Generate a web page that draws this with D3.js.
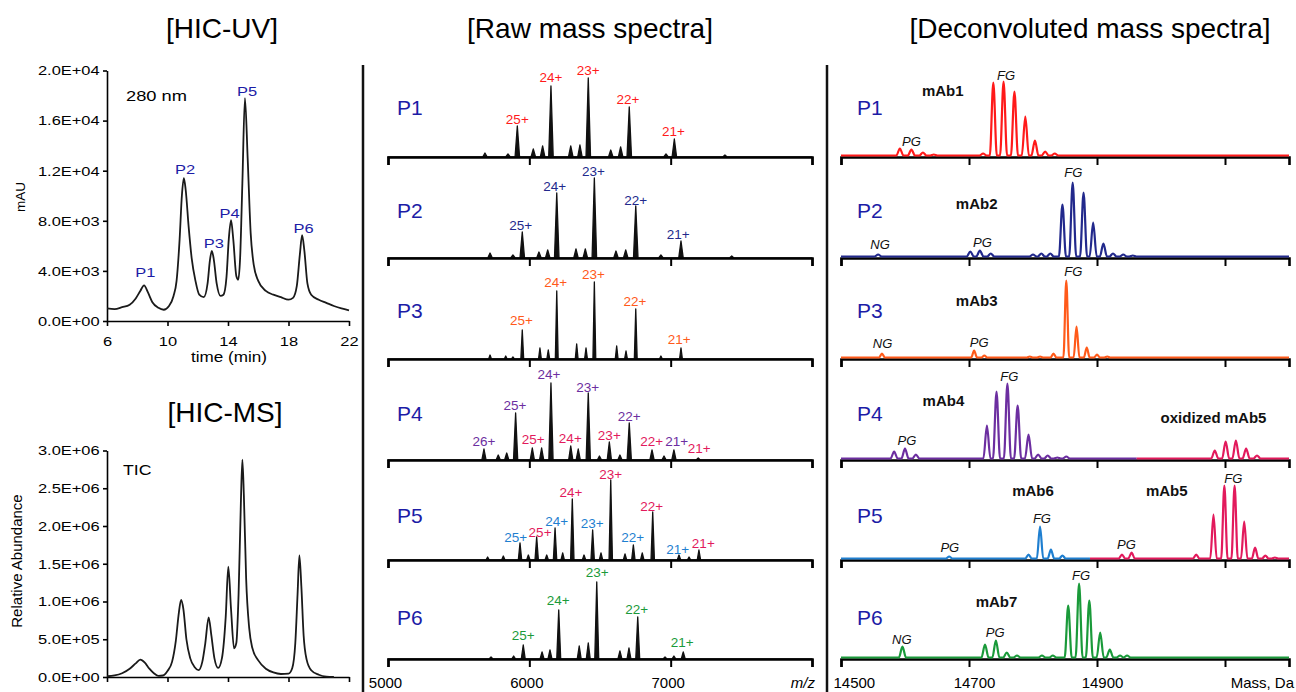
<!DOCTYPE html>
<html>
<head>
<meta charset="utf-8">
<script src="https://cdn.jsdelivr.net/npm/d3@7"></script>
<style>
  body { margin: 0; background: #fff; }
  text { font-family: "Liberation Sans", Arial, sans-serif; }
</style>
</head>
<body>
<script>
// ---- HIC chromatograms (time in min) ----
const uvTime   = [6.0, 6.5, 7.0, 7.5, 7.9, 8.2, 8.45, 8.7, 9.0, 9.4, 9.75, 10.1, 10.4, 10.6, 10.8, 10.95, 11.08, 11.2, 11.4, 11.6, 11.85, 12.1, 12.4, 12.65, 12.8, 12.93, 13.05, 13.25, 13.5, 13.7, 13.9, 14.05, 14.2, 14.35, 14.55, 14.68, 14.8, 14.95, 15.12, 15.3, 15.5, 15.7, 16.0, 16.5, 17.0, 17.5, 18.0, 18.3, 18.55, 18.75, 18.9, 19.05, 19.25, 19.5, 20.0, 20.5, 21.0, 21.5, 22.0];
const uvSignal = [1000, 950, 1100, 1300, 1800, 2400, 2850, 2300, 1500, 1050, 900, 1200, 2000, 3200, 6500, 10000, 11400, 10500, 7500, 5000, 3200, 2100, 1900, 3000, 4800, 5600, 5000, 3000, 2000, 2100, 3500, 6500, 8050, 6500, 3600, 3300, 5000, 11000, 17800, 13000, 7000, 4500, 3200, 2400, 2100, 1900, 1700, 1850, 2800, 5300, 6850, 5600, 3000, 2100, 1700, 1450, 1200, 1000, 850];

const ticTime   = [6.0, 6.5, 7.0, 7.5, 7.9, 8.2, 8.5, 8.8, 9.1, 9.4, 9.7, 10.0, 10.3, 10.55, 10.75, 10.9, 11.05, 11.25, 11.5, 11.8, 12.05, 12.3, 12.5, 12.72, 12.9, 13.1, 13.35, 13.6, 13.85, 14.02, 14.2, 14.4, 14.55, 14.7, 14.85, 14.95, 15.05, 15.2, 15.4, 15.6, 16.0, 16.5, 17.0, 17.5, 18.0, 18.25, 18.45, 18.6, 18.72, 18.85, 19.0, 19.2, 19.5, 20.0, 20.5, 21.0];
const ticSignal = [10000, 20000, 50000, 110000, 180000, 230000, 190000, 110000, 50000, 15000, 20000, 80000, 200000, 480000, 850000, 1020000, 900000, 500000, 250000, 130000, 90000, 200000, 450000, 790000, 550000, 250000, 120000, 250000, 800000, 1460000, 900000, 380000, 450000, 1100000, 2300000, 2880000, 2400000, 1300000, 650000, 390000, 220000, 110000, 60000, 40000, 45000, 120000, 450000, 1100000, 1610000, 1200000, 550000, 230000, 90000, 30000, 5000, 0];

const uvPeakNames = ["P1", "P2", "P3", "P4", "P5", "P6"];
const uvPeakTime  = [8.53, 11.16, 13.07, 14.11, 15.26, 19.0];
const uvPeakLevel = [3550, 11700, 5820, 8250, 17930, 7050];

const timeTicks = [6, 10, 14, 18, 22];
const uvTicks   = [0, 4000, 8000, 12000, 16000, 20000];
const ticTicks  = [0, 500000, 1000000, 1500000, 2000000, 2500000, 3000000];

// ---- raw mass spectra: [m/z, relative intensity] ----
const fractions = ["P1", "P2", "P3", "P4", "P5", "P6"];
const mzTicks = [5000, 6000, 7000, 8000];

const rawP1 = [[5686,4],[5849,3],[5915,31],[6028,8],[6094,11],[6153,71],[6293,11],[6358,12],[6417,79],[6576,7],[6646,10],[6707,50],[6967,3],[7026,18],[7384,2]];
const rawP2 = [[5722,5],[5884,3],[5950,26],[6068,6],[6130,8],[6194,65],[6330,9],[6396,9],[6460,80],[6613,7],[6682,8],[6753,52],[6931,3],[7073,17],[7432,2]];
const rawP3 = [[5722,4],[5833,3],[5884,2],[5950,29],[6075,11],[6134,9],[6194,68],[6335,15],[6401,11],[6460,77],[6618,13],[6684,8],[6753,50],[6931,3],[7073,11]];
const rawP4 = [[5679,11],[5780,5],[5840,7],[5903,47],[6021,12],[6087,12],[6153,77],[6293,14],[6346,11],[6417,67],[6496,4],[6566,18],[6641,5],[6707,37],[6868,10],[6953,4],[7023,10],[7195,2]];
const rawP5 = [[5705,3],[5816,4],[5934,17],[5993,5],[6052,23],[6123,5],[6182,32],[6236,7],[6304,61],[6387,5],[6448,30],[6507,7],[6576,80],[6677,6],[6736,15],[6799,7],[6873,48],[7059,5],[7130,3],[7200,10]];
const rawP6 = [[5729,2],[5889,3],[5957,14],[6090,7],[6146,9],[6208,49],[6353,13],[6417,16],[6477,77],[6641,8],[6705,11],[6767,42],[6960,2],[7023,3],[7089,7]];
const rawSpectra = [rawP1, rawP2, rawP3, rawP4, rawP5, rawP6];

// charge-state labels: [m/z, label, level, antibody]
const chargeP1 = [[5915,"25+",33,"mAb1"],[6153,"24+",75,"mAb1"],[6417,"23+",82,"mAb1"],[6698,"22+",53,"mAb1"],[7020,"21+",21,"mAb1"]];
const chargeP2 = [[5939,"25+",28,"mAb2"],[6180,"24+",67,"mAb2"],[6453,"23+",82,"mAb2"],[6753,"22+",53,"mAb2"],[7054,"21+",19,"mAb2"]];
const chargeP3 = [[5945,"25+",34,"mAb3"],[6186,"24+",72,"mAb3"],[6453,"23+",80,"mAb3"],[6748,"22+",53,"mAb3"],[7061,"21+",15,"mAb3"]];
const chargeP4 = [[5679,"26+",14,"mAb4"],[5898,"25+",50,"mAb4"],[6139,"24+",81,"mAb4"],[6413,"23+",68,"mAb4"],[6707,"22+",39,"mAb4"],[7042,"21+",14,"mAb4"],
                  [6028,"25+",16,"mAb5"],[6290,"24+",17,"mAb5"],[6566,"23+",20,"mAb5"],[6866,"22+",14,"mAb5"],[7202,"21+",7,"mAb5"]];
const chargeP5 = [[5904,"25+",18,"mAb6"],[6193,"24+",34,"mAb6"],[6445,"23+",32,"mAb6"],[6731,"22+",18,"mAb6"],[7050,"21+",6,"mAb6"],
                  [6076,"25+",23,"mAb5"],[6294,"24+",63,"mAb5"],[6576,"23+",81,"mAb5"],[6866,"22+",49,"mAb5"],[7231,"21+",12,"mAb5"]];
const chargeP6 = [[5957,"25+",19,"mAb7"],[6205,"24+",54,"mAb7"],[6480,"23+",82,"mAb7"],[6760,"22+",45,"mAb7"],[7082,"21+",12,"mAb7"]];
const chargeLabels = [chargeP1, chargeP2, chargeP3, chargeP4, chargeP5, chargeP6];

// ---- deconvoluted spectra: [mass, relative intensity] ----
const massTicks = [14500, 14700, 14900, 15100];

const decMab1   = [[14592,7],[14610,6],[14628,3],[14645,1],[14722,2],[14738,73],[14754,74],[14771,64],[14788,39],[14803,15],[14819,4],[14834,2]];
const decMab2   = [[14558,2],[14702,5],[14717,6],[14734,3],[14800,2],[14813,3],[14827,3],[14846,52],[14862,74],[14879,64],[14894,34],[14910,13],[14925,3],[14941,2],[14956,1]];
const decMab3   = [[14564,4],[14708,7],[14724,2],[14795,1],[14811,1],[14832,4],[14852,77],[14868,31],[14884,10],[14900,3],[14916,1]];
const decMab4   = [[14583,7],[14600,10],[14617,4],[14728,33],[14743,67],[14760,75],[14776,53],[14793,24],[14808,4],[14823,3],[14838,1],[14852,2]];
const decOxMab5 = [[15084,8],[15101,17],[15117,18],[15133,10],[15150,3]];
const decMab6   = [[14669,2],[14793,4],[14811,32],[14828,9],[14846,3]];
const decMab5   = [[14939,4],[14954,6],[15055,4],[15082,44],[15099,73],[15115,73],[15130,37],[15147,11],[15163,3],[15178,1]];
const decMab7   = [[14596,11],[14725,13],[14742,17],[14759,5],[14775,2],[14814,2],[14831,2],[14855,52],[14872,74],[14888,57],[14905,25],[14920,8],[14936,2],[14947,2]];

// which antibody trace covers which mass range in each fraction
const deconvPanels = [
  [{mab: "mAb1", from: 14500, to: 15200, peaks: decMab1}],
  [{mab: "mAb2", from: 14500, to: 15200, peaks: decMab2}],
  [{mab: "mAb3", from: 14500, to: 15200, peaks: decMab3}],
  [{mab: "mAb4", from: 14500, to: 14962, peaks: decMab4}, {mab: "mAb5", from: 14962, to: 15200, peaks: decOxMab5}],
  [{mab: "mAb6", from: 14500, to: 14889, peaks: decMab6}, {mab: "mAb5", from: 14889, to: 15200, peaks: decMab5}],
  [{mab: "mAb7", from: 14500, to: 15200, peaks: decMab7}]
];

// glycoform labels [mass, label, level]
const glycoP1 = [[14610,"PG",10],[14758,"FG",76]];
const glycoP2 = [[14561,"NG",8],[14721,"PG",10],[14863,"FG",80]];
const glycoP3 = [[14565,"NG",10],[14716,"PG",11],[14863,"FG",82]];
const glycoP4 = [[14603,"PG",14],[14763,"FG",78]];
const glycoP5 = [[14670,"PG",7],[14814,"FG",36],[14946,"PG",10],[15113,"FG",76]];
const glycoP6 = [[14595,"NG",13.5],[14741,"PG",21],[14875,"FG",77.5]];
const glycoLabels = [glycoP1, glycoP2, glycoP3, glycoP4, glycoP5, glycoP6];

// antibody name labels [mass, label, level]
const mabP1 = [[14659,"mAb1",59.5]];
const mabP2 = [[14712,"mAb2",48]];
const mabP3 = [[14712,"mAb3",51.5]];
const mabP4 = [[14660,"mAb4",53],[15082,"oxidized mAb5",36]];
const mabP5 = [[14800,"mAb6",62.5],[15009,"mAb5",62.5]];
const mabP6 = [[14743,"mAb7",51]];
const mabLabels = [mabP1, mabP2, mabP3, mabP4, mabP5, mabP6];

const mabColor = {
  mAb1: "#ff1a1a", mAb2: "#22298c", mAb3: "#ff5a1a", mAb4: "#6c2ea0",
  mAb5: "#e21a5c", mAb6: "#1f7fd0", mAb7: "#1a9a3a"
};

// ---- layout ----
const baseY   = [157, 258, 359, 460, 560, 659];
const pLabelY = [107, 210, 310, 413, 515, 617];
const rawHalfWidth = [16, 16, 10, 15, 12, 14];
const decHalfWidth = [5.5, 5.5, 4.5, 5.5, 5, 5.5];
const pColor = "#1c1ca6";

const svg = d3.select("body").append("svg")
    .attr("width", 1296)
    .attr("height", 692);

function sci(v) {
    if (v === 0) return "0.0E+00";
    const e = Math.floor(Math.log10(v) + 1e-9);
    return (v / Math.pow(10, e)).toFixed(1) + "E+" + String(e).padStart(2, "0");
}

// text squeezed wider, like the left panels of the figure
function wideText(x, y, txt, size, anchor) {
    return svg.append("text")
        .attr("transform", "translate(" + x + "," + y + ") scale(1.22,1)")
        .attr("text-anchor", anchor || "start")
        .attr("font-size", size)
        .text(txt);
}

function title(x, y, txt) {
    svg.append("text").attr("x", x).attr("y", y)
        .attr("text-anchor", "middle").attr("font-size", 28).text(txt);
}

title(222, 38, "[HIC-UV]");
title(225, 422, "[HIC-MS]");
title(590, 38, "[Raw mass spectra]");
title(1090, 38, "[Deconvoluted mass spectra]");

// ---- chromatograms ----
const xTime = d3.scaleLinear().domain([6, 22]).range([107, 349]);

function chromatogram(time, signal, ticks, top, bottom, showTime) {
    const y = d3.scaleLinear().domain([0, ticks[ticks.length - 1]]).range([bottom, top]);
    const g = svg.append("g");

    const ya = g.append("g")
        .attr("transform", "translate(107,0)")
        .call(d3.axisLeft(y).tickValues(ticks).tickFormat(sci).tickSize(4).tickSizeOuter(0).tickPadding(2));
    ya.attr("font-family", null).attr("font-size", 13.5);
    ya.selectAll("text").attr("transform", "scale(1.22,1)");

    const xa = g.append("g")
        .attr("transform", "translate(0," + bottom + ")")
        .call(d3.axisBottom(xTime).tickValues(timeTicks).tickSize(5).tickSizeOuter(0).tickPadding(10)
            .tickFormat(showTime ? d3.format("d") : () => ""));
    xa.attr("font-family", null).attr("font-size", 13.5);
    xa.selectAll("text").attr("transform", "scale(1.22,1)");

    g.selectAll(".domain, .tick line").attr("stroke-width", 1.6);

    const line = d3.line()
        .x(d => xTime(d[0]))
        .y(d => y(d[1]))
        .curve(d3.curveMonotoneX);

    g.append("path")
        .datum(d3.zip(time, signal))
        .attr("d", line)
        .attr("fill", "none")
        .attr("stroke", "#1a1a1a")
        .attr("stroke-width", 1.8);

    return y;
}

const yUV = chromatogram(uvTime, uvSignal, uvTicks, 70.5, 321, true);
const yTIC = chromatogram(ticTime, ticSignal, ticTicks, 450.5, 677, false);

uvPeakNames.forEach((name, i) => {
    wideText(xTime(uvPeakTime[i]), yUV(uvPeakLevel[i]), name, 13.5, "middle").attr("fill", pColor);
});

wideText(126, 101, "280 nm", 15);
wideText(123, 475, "TIC", 14.5);
wideText(229, 362, "time (min)", 14, "middle");

svg.append("text")
    .attr("transform", "translate(25,197) rotate(-90)")
    .attr("text-anchor", "middle").attr("font-size", 13.5).text("mAU");
svg.append("text")
    .attr("transform", "translate(22,561) rotate(-90)")
    .attr("text-anchor", "middle").attr("font-size", 15).text("Relative Abundance");

// ---- separators ----
[363, 827].forEach(x => {
    svg.append("line").attr("x1", x).attr("x2", x).attr("y1", 65).attr("y2", 692)
        .attr("stroke", "#111").attr("stroke-width", 2.5);
});

// ---- raw mass spectra ----
const xRaw = d3.scaleLinear().domain([5000, 8000]).range([388, 812]);
const xDec = d3.scaleLinear().domain([14500, 15200]).range([841, 1289]);

function styleAxis(a) {
    a.attr("font-family", null).attr("font-size", 15);
    a.selectAll(".domain").attr("stroke-width", 2.6);
    a.selectAll(".tick line").attr("stroke-width", 2);
}

fractions.forEach((name, i) => {
    const base = baseY[i];
    const last = i === fractions.length - 1;

    // raw spectrum
    const yR = d3.scaleLinear().domain([0, 100]).range([base, base - 100]);
    const w = rawHalfWidth[i];
    const pts = [[5000, 0]];
    rawSpectra[i].forEach(p => { pts.push([p[0] - w, 0], [p[0], p[1]], [p[0] + w, 0]); });
    pts.push([8000, 0]);

    svg.append("path")
        .datum(pts)
        .attr("d", d3.area().x(d => xRaw(d[0])).y0(base).y1(d => yR(d[1])))
        .attr("fill", "#111")
        .attr("stroke", "#111")
        .attr("stroke-width", 1.3)
        .attr("stroke-linejoin", "round");

    const ra = svg.append("g")
        .attr("transform", "translate(0," + base + ")")
        .call(d3.axisBottom(xRaw).tickValues(mzTicks).tickSize(8).tickSizeOuter(8).tickPadding(10)
            .tickFormat(d => (last && d < 8000) ? d : ""));
    styleAxis(ra);
    ra.selectAll("text").attr("dx", -3);

    svg.selectAll(null)
        .data(chargeLabels[i])
        .join("text")
        .attr("x", d => xRaw(d[0]))
        .attr("y", d => yR(d[2]))
        .attr("text-anchor", "middle")
        .attr("font-size", 13.5)
        .attr("fill", d => mabColor[d[3]])
        .text(d => d[1]);

    svg.append("text").attr("x", 397).attr("y", pLabelY[i] + 7.5)
        .attr("font-size", 21).attr("fill", pColor).text(name);

    // deconvoluted spectrum
    const da = svg.append("g")
        .attr("transform", "translate(0," + base + ")")
        .call(d3.axisBottom(xDec).tickValues(massTicks).tickSize(8).tickSizeOuter(8).tickPadding(10)
            .tickFormat(d => (last && d < 15100) ? d : ""));
    styleAxis(da);
    da.selectAll("text")
        .attr("text-anchor", d => d === 14500 ? "start" : "middle")
        .attr("dx", d => d === 14500 ? -8 : 5);

    const yD = d3.scaleLinear().domain([0, 100]).range([base - 1.5, base - 101.5]);
    const hw = decHalfWidth[i];
    const dline = d3.line().x(d => xDec(d[0])).y(d => yD(d[1])).curve(d3.curveMonotoneX);

    deconvPanels[i].forEach(s => {
        const dp = [[s.from, 0]];
        s.peaks.forEach(p => { dp.push([p[0] - hw, 0], [p[0], p[1]], [p[0] + hw, 0]); });
        dp.push([s.to, 0]);
        svg.append("path")
            .datum(dp)
            .attr("d", dline)
            .attr("fill", "none")
            .attr("stroke", mabColor[s.mab])
            .attr("stroke-width", 2.2)
            .attr("stroke-linejoin", "round");
    });

    svg.selectAll(null)
        .data(glycoLabels[i])
        .join("text")
        .attr("x", d => xDec(d[0]))
        .attr("y", d => yD(d[2]))
        .attr("text-anchor", "middle")
        .attr("font-size", 13)
        .attr("font-style", "italic")
        .attr("fill", "#111")
        .text(d => d[1]);

    svg.selectAll(null)
        .data(mabLabels[i])
        .join("text")
        .attr("x", d => xDec(d[0]))
        .attr("y", d => yD(d[2]))
        .attr("text-anchor", "middle")
        .attr("font-size", 15)
        .attr("font-weight", "bold")
        .attr("fill", "#111")
        .text(d => d[1]);

    svg.append("text").attr("x", 857).attr("y", pLabelY[i] + 7.5)
        .attr("font-size", 21).attr("fill", pColor).text(name);
});

svg.append("text").attr("x", 815).attr("y", 688)
    .attr("text-anchor", "end").attr("font-size", 15).attr("font-style", "italic").text("m/z");
svg.append("text").attr("x", 1294).attr("y", 688)
    .attr("text-anchor", "end").attr("font-size", 15).text("Mass, Da");
</script>
</body>
</html>
